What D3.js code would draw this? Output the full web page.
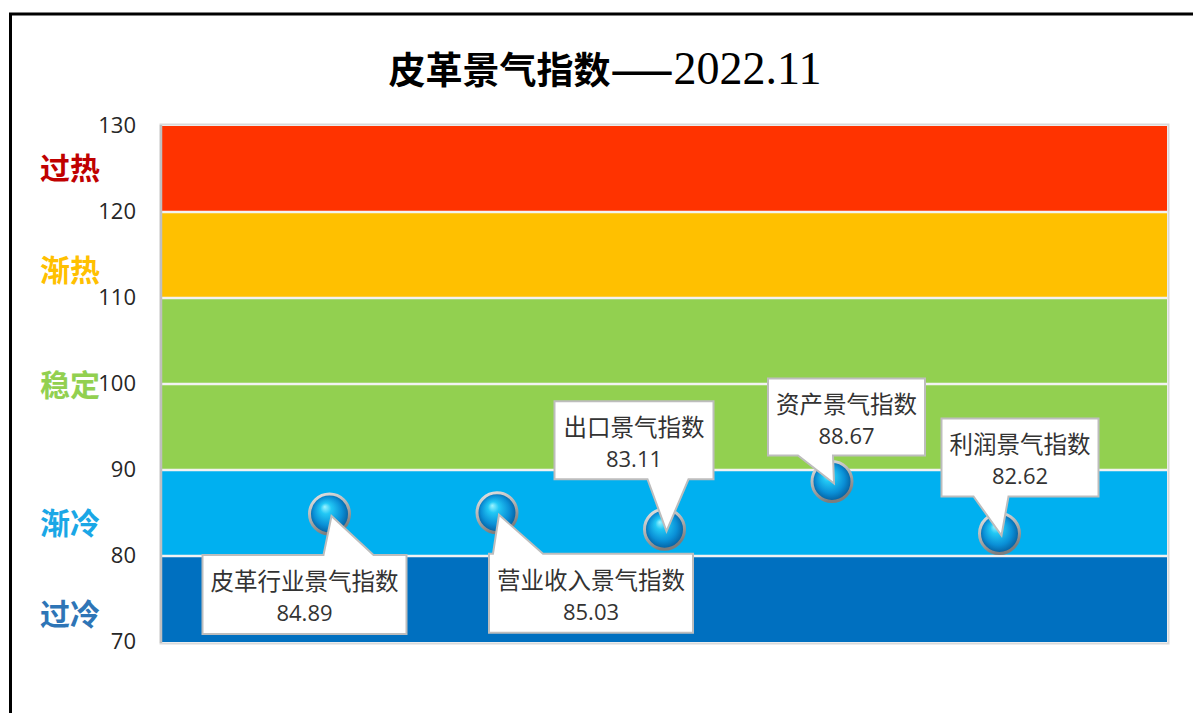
<!DOCTYPE html>
<html><head><meta charset="utf-8">
<script src="https://cdn.jsdelivr.net/npm/d3@7"></script>
<style>
html,body{margin:0;padding:0;background:#fff;}
svg{display:block;}
</style></head>
<body>
<svg id="c" width="1193" height="713"></svg>
<script>
// ---- data ----
const categories = ["皮革行业景气指数","营业收入景气指数","出口景气指数","资产景气指数","利润景气指数"];
const values = [84.89, 85.03, 83.11, 88.67, 82.62];
const yTicks = [70, 80, 90, 100, 110, 120, 130];
const zoneNames = ["过冷","渐冷","稳定","渐热","过热"];
const zoneLow  = [70, 80, 90, 110, 120];
const zoneHigh = [80, 90, 110, 120, 130];
const zoneLabelAt = [73.5, 84.1, 100.1, 113.5, 125.3];
const titleMain = "皮革景气指数——";
const titleDate = "2022.11";

// ---- styles ----
const zoneFill  = ["#0070C0","#00B0F0","#92D050","#FFC000","#FF3300"];
const zoneText  = ["#2E75B6","#1AA7E6","#92D050","#FFC000","#C00000"];
// callout geometry relative to point (box l,r,t,b ; pointer base a,b)
const callouts = [
  {l:-129,r:75, t:39,  b:118, pa:-8,  pb:42, side:"top"},
  {l:-10, r:194,t:39,  b:118, pa:-6,  pb:44, side:"top"},
  {l:-112,r:47, t:-130,b:-52, pa:-19, pb:22, side:"bottom"},
  {l:-66, r:91, t:-105,b:-28, pa:-36, pb:-1, side:"bottom"},
  {l:-60, r:97, t:-117,b:-39, pa:-28, pb:7,  side:"bottom"}
];

const svg = d3.select("#c");
const W = 1193, H = 713;
const plot = {left:162, right:1167, top:126, bottom:642};

const x = d3.scalePoint().domain(categories).range([plot.left, plot.right]).padding(1);
const y = d3.scaleLinear().domain([70,130]).range([plot.bottom, plot.top]);

const defs = svg.append("defs");
const rg = defs.append("radialGradient").attr("id","ball")
  .attr("cx","50%").attr("cy","50%").attr("r","55%").attr("fx","38%").attr("fy","32%");
rg.append("stop").attr("offset","0%").attr("stop-color","#9ff4ff");
rg.append("stop").attr("offset","25%").attr("stop-color","#22c8f5");
rg.append("stop").attr("offset","65%").attr("stop-color","#0a8fd6");
rg.append("stop").attr("offset","100%").attr("stop-color","#04508e");
const lg = defs.append("linearGradient").attr("id","ring").attr("x1","0").attr("y1","0").attr("x2","0.4").attr("y2","1");
lg.append("stop").attr("offset","0%").attr("stop-color","#e6e6e6");
lg.append("stop").attr("offset","50%").attr("stop-color","#b5b5b5");
lg.append("stop").attr("offset","100%").attr("stop-color","#7d7d7d");

// outer frame
svg.append("rect").attr("x",10.5).attr("y",14).attr("width",W+20).attr("height",H+20)
  .attr("fill","#fff").attr("stroke","#000").attr("stroke-width",3);

// title
const t = svg.append("text").attr("x",605).attr("y",84).attr("text-anchor","middle")
  .attr("fill","#000");
t.append("tspan").attr("font-family","'Noto Sans CJK SC'").attr("font-weight","bold")
  .attr("font-size",37).text(titleMain);
t.append("tspan").attr("font-family","'Liberation Serif'").attr("font-size",46).text(titleDate);

// plot frame shadow
svg.append("rect").attr("x",plot.left-1.5).attr("y",plot.top-1.5)
  .attr("width",plot.right-plot.left+3).attr("height",plot.bottom-plot.top+3)
  .attr("fill","none").attr("stroke","#d9d9d9").attr("stroke-width",2);

// zones
svg.append("g").selectAll("rect").data(zoneNames).join("rect")
  .attr("x",plot.left).attr("width",plot.right-plot.left)
  .attr("y",(d,i)=>y(zoneHigh[i])).attr("height",(d,i)=>y(zoneLow[i])-y(zoneHigh[i]))
  .attr("fill",(d,i)=>zoneFill[i]);

// grid lines (white separators)
svg.append("g").selectAll("line").data(yTicks.filter(v=>v>70 && v<130)).join("line")
  .attr("x1",plot.left).attr("x2",plot.right)
  .attr("y1",d=>y(d)).attr("y2",d=>y(d))
  .attr("stroke","#f2f2f2").attr("stroke-width",2.5);

// left edge gray
svg.append("line").attr("x1",plot.left-1).attr("x2",plot.left-1)
  .attr("y1",plot.top-1).attr("y2",plot.bottom+1)
  .attr("stroke","#bfbfbf").attr("stroke-width",2.5);

// y axis
const ax = svg.append("g").attr("transform",`translate(${plot.left},0)`)
  .call(d3.axisLeft(y).tickValues(yTicks).tickSize(0).tickPadding(26).tickFormat(d3.format("d")));
ax.select(".domain").remove();
ax.attr("font-size",null).attr("font-family",null);
ax.selectAll(".tick text").attr("font-family","'Open Sans','Noto Sans',sans-serif")
  .style("font-size","22px").attr("fill","#262626").attr("dy","0.3em");

// zone labels
svg.append("g").selectAll("text").data(zoneNames).join("text")
  .attr("x",70).attr("y",(d,i)=>y(zoneLabelAt[i]))
  .attr("text-anchor","middle").attr("dominant-baseline","central")
  .attr("font-family","'Noto Sans CJK SC'").attr("font-weight","bold")
  .attr("font-size",30).attr("fill",(d,i)=>zoneText[i]).text(d=>d);

// balls
svg.append("g").selectAll("circle").data(categories).join("circle")
  .attr("cx",d=>x(d)).attr("cy",(d,i)=>y(values[i])).attr("r",20)
  .attr("fill","url(#ball)").attr("stroke","url(#ring)").attr("stroke-width",3);

// callouts
const cg = svg.append("g").selectAll("g").data(categories).join("g")
  .attr("transform",(d,i)=>`translate(${x(d)+2},${y(values[i])+2})`);
cg.append("path").attr("d",(d,i)=>{
    const c = callouts[i];
    if (c.side==="top") {
      return `M${c.l},${c.t}L${c.pa},${c.t}L0,0L${c.pb},${c.t}L${c.r},${c.t}L${c.r},${c.b}L${c.l},${c.b}Z`;
    }
    return `M${c.l},${c.t}L${c.r},${c.t}L${c.r},${c.b}L${c.pb},${c.b}L0,0L${c.pa},${c.b}L${c.l},${c.b}Z`;
  })
  .attr("fill","#fff").attr("stroke","#bdbdbd").attr("stroke-width",2).attr("stroke-linejoin","miter");
cg.append("text").attr("x",(d,i)=>(callouts[i].l+callouts[i].r)/2)
  .attr("y",(d,i)=>callouts[i].t+25)
  .attr("text-anchor","middle").attr("dominant-baseline","central")
  .attr("font-family","'Noto Sans CJK SC'").attr("font-size",23.5).attr("fill","#333")
  .text(d=>d);
cg.append("text").attr("x",(d,i)=>(callouts[i].l+callouts[i].r)/2)
  .attr("y",(d,i)=>callouts[i].t+57)
  .attr("text-anchor","middle").attr("dominant-baseline","central")
  .attr("font-family","'Open Sans','Noto Sans',sans-serif").attr("font-size",22).attr("fill","#333")
  .text((d,i)=>d3.format(".2f")(values[i]));
</script>
</body></html>
